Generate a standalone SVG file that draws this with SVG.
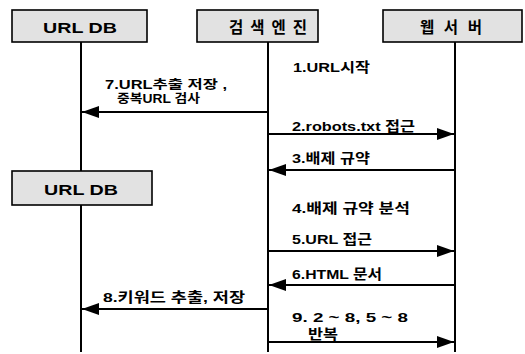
<svg xmlns="http://www.w3.org/2000/svg" width="525" height="354" viewBox="0 0 525 354">
<style>
.box{fill:#e2e2e2;stroke:#000;stroke-width:1.6}
.bl{font-family:"Liberation Sans","Noto Sans CJK KR",sans-serif;font-size:15.5px;font-weight:bold;fill:#000}
.t{font-family:"Liberation Sans","Noto Sans CJK KR",sans-serif;font-size:13.5px;font-weight:bold;fill:#000}
.t2{font-family:"Liberation Sans","Noto Sans CJK KR",sans-serif;font-size:12.5px;font-weight:bold;fill:#000}
.life{stroke:#000;stroke-width:2;fill:none}
.msg{stroke:#000;stroke-width:2;fill:none}
</style>
<defs>
<marker id="ah" markerUnits="userSpaceOnUse" markerWidth="18" markerHeight="12" refX="17" refY="6" orient="auto">
<path d="M0,0 L17,6 L0,12 Z" fill="#000"/>
</marker>
</defs>
<rect width="525" height="354" fill="#fff"/>
<g id="urldb1">
<rect class="box" x="12" y="10" width="135" height="32"/>
<text class="bl" x="80" y="33" text-anchor="middle" textLength="74" lengthAdjust="spacingAndGlyphs">URL DB</text>
</g>
<g id="engine">
<rect class="box" x="197" y="10" width="121" height="32"/>
<text class="bl" x="268" y="33" text-anchor="middle" textLength="78" lengthAdjust="spacing">검색엔진</text>
</g>
<g id="webserver">
<rect class="box" x="383" y="10" width="139" height="32"/>
<text class="bl" x="451" y="33" text-anchor="middle" textLength="62" lengthAdjust="spacing">웹서버</text>
</g>
<g id="urldb2">
<rect class="box" x="12" y="171" width="140" height="34"/>
<text class="bl" x="81" y="195" text-anchor="middle" textLength="74" lengthAdjust="spacingAndGlyphs">URL DB</text>
</g>
<g id="connectors">
<line class="life" x1="81" y1="42" x2="81" y2="171"/>
<line class="life" x1="81" y1="205" x2="81" y2="352"/>
<line class="life" x1="268" y1="42" x2="268" y2="352"/>
<line class="life" x1="455" y1="42" x2="455" y2="352"/>
<line class="msg" x1="268" y1="112" x2="82" y2="112" marker-end="url(#ah)"/>
<line class="msg" x1="268" y1="134" x2="454" y2="134" marker-end="url(#ah)"/>
<line class="msg" x1="455" y1="170" x2="269" y2="170" marker-end="url(#ah)"/>
<line class="msg" x1="268" y1="251" x2="454" y2="251" marker-end="url(#ah)"/>
<line class="msg" x1="455" y1="285" x2="269" y2="285" marker-end="url(#ah)"/>
<line class="msg" x1="268" y1="309" x2="82" y2="309" marker-end="url(#ah)"/>
<line class="msg" x1="268" y1="342" x2="454" y2="342" marker-end="url(#ah)"/>
</g>
<g id="labels">
<text class="t" x="293" y="72" textLength="77" lengthAdjust="spacingAndGlyphs">1.URL시작</text>
<text class="t2" x="105" y="89" textLength="122" lengthAdjust="spacingAndGlyphs">7.URL추출 저장 ,</text>
<text class="t2" x="117" y="103" textLength="83" lengthAdjust="spacingAndGlyphs">중복URL 검사</text>
<text class="t" x="292" y="131" textLength="123" lengthAdjust="spacingAndGlyphs">2.robots.txt 접근</text>
<text class="t" x="292" y="163" textLength="78" lengthAdjust="spacingAndGlyphs">3.배제 규약</text>
<text class="t" x="292" y="213" textLength="118" lengthAdjust="spacingAndGlyphs">4.배제 규약 분석</text>
<text class="t" x="292" y="244" textLength="80" lengthAdjust="spacingAndGlyphs">5.URL 접근</text>
<text class="t" x="292" y="279" textLength="90" lengthAdjust="spacingAndGlyphs">6.HTML 문서</text>
<text class="t" x="103" y="302" textLength="142" lengthAdjust="spacingAndGlyphs">8.키워드 추출, 저장</text>
<text class="t" x="292" y="322" textLength="116" lengthAdjust="spacingAndGlyphs">9. 2 ~ 8, 5 ~ 8</text>
<text class="t" x="308" y="339" textLength="30" lengthAdjust="spacingAndGlyphs">반복</text>
</g>
</svg>
